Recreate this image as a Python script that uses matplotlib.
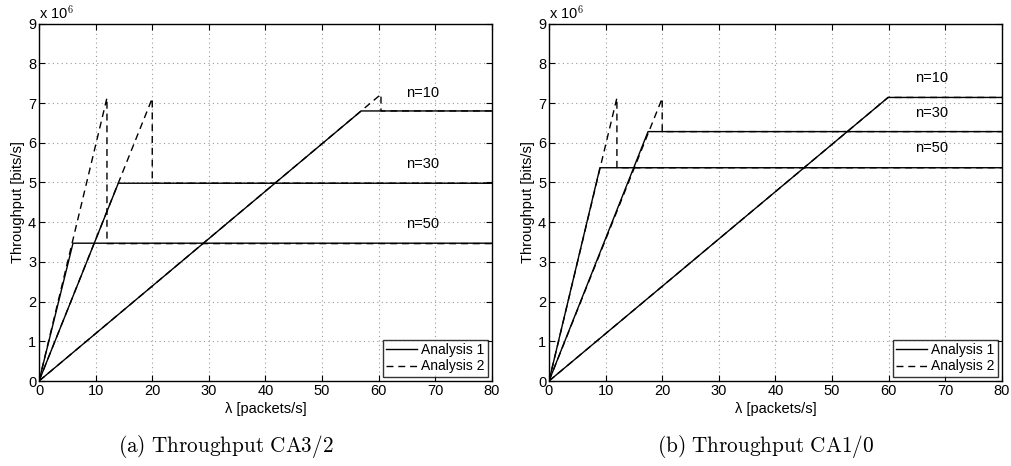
import matplotlib
matplotlib.use("Agg")
import matplotlib.pyplot as plt
from matplotlib.ticker import MultipleLocator

plt.rcParams["font.family"] = ["Liberation Sans", "DejaVu Sans"]
plt.rcParams["mathtext.fontset"] = "cm"

SCALE = 1e6  # y axis shown in units of 10^6 bits/s

n_labels = ["n=10", "n=30", "n=50"]

# ---------------------------------------------------------------- CA3/2
ca32_a1_knee_x = [56.9, 14.0, 6.0]
ca32_a1_level = [6.80e6, 4.98e6, 3.47e6]
ca32_a2_peak_x = [60.4, 20.0, 12.0]
ca32_a2_peak_y = [7.22e6, 7.12e6, 7.13e6]
ca32_a2_level = [6.80e6, 4.98e6, 3.46e6]
ca32_label_x = [67.8, 67.8, 67.8]
ca32_label_y = [7.26e6, 5.46e6, 3.95e6]

# ---------------------------------------------------------------- CA1/0
ca10_a1_knee_x = [59.9, 17.5, 9.0]
ca10_a1_level = [7.14e6, 6.28e6, 5.37e6]
ca10_a2_peak_x = [59.9, 20.0, 12.0]
ca10_a2_peak_y = [7.14e6, 7.12e6, 7.13e6]
ca10_a2_level = [7.14e6, 6.28e6, 5.37e6]
ca10_label_x = [67.6, 67.6, 67.6]
ca10_label_y = [7.62e6, 6.75e6, 5.86e6]

X_MAX = 80

fig = plt.figure(figsize=(10.11, 4.66), dpi=100)
ax1 = fig.add_axes([0.0386, 0.1824, 0.448, 0.767])
ax2 = fig.add_axes([0.543, 0.1824, 0.448, 0.767])


def draw_panel(ax, knee_x, level1, peak_x, peak_y, level2, lab_x, lab_y):
    for i in range(len(knee_x)):
        ax.plot([0, knee_x[i], X_MAX],
                [0, level1[i] / SCALE, level1[i] / SCALE],
                color="black", lw=1.0, ls="-",
                label="Analysis 1" if i == 0 else None)
        ax.plot([0, peak_x[i], peak_x[i], X_MAX],
                [0, peak_y[i] / SCALE, level2[i] / SCALE, level2[i] / SCALE],
                color="black", lw=1.0, ls=(0, (5, 3.5)),
                label="Analysis 2" if i == 0 else None)
        ax.text(lab_x[i], lab_y[i] / SCALE, n_labels[i], ha="center", va="center",
                fontsize=10.5)

    ax.set_xlim(0, X_MAX)
    ax.set_ylim(0, 9)
    ax.xaxis.set_major_locator(MultipleLocator(10))
    ax.yaxis.set_major_locator(MultipleLocator(1))
    ax.grid(True, ls=(0, (1, 3)), color="#999999", lw=0.8)
    ax.tick_params(direction="in", top=True, right=True, labelsize=10.5, length=4, pad=2)
    for s in ax.spines.values():
        s.set_linewidth(1.0)
    ax.set_xlabel("λ [packets/s]", fontsize=10.5, labelpad=3)
    ax.set_ylabel("Throughput [bits/s]", fontsize=10.5, labelpad=2)
    ax.text(0.0, 1.005, "x 10$^{\\mathsf{6}}$", transform=ax.transAxes, fontsize=10.5,
            ha="left", va="bottom")
    leg = ax.legend(loc="lower right", fontsize=10, handlelength=2.2, frameon=True,
                    fancybox=False, borderpad=0.25, labelspacing=0.15,
                    handletextpad=0.3, borderaxespad=0.3)
    leg.get_frame().set_edgecolor("black")
    leg.get_frame().set_linewidth(1.0)


draw_panel(ax1, ca32_a1_knee_x, ca32_a1_level, ca32_a2_peak_x, ca32_a2_peak_y,
           ca32_a2_level, ca32_label_x, ca32_label_y)
draw_panel(ax2, ca10_a1_knee_x, ca10_a1_level, ca10_a2_peak_x, ca10_a2_peak_y,
           ca10_a2_level, ca10_label_x, ca10_label_y)

fig.text(0.2236, 0.041, r"$\mathrm{(a)\ Throughput\ CA3/2}$", ha="center", va="center",
         fontsize=15.3)
fig.text(0.757, 0.041, r"$\mathrm{(b)\ Throughput\ CA1/0}$", ha="center", va="center",
         fontsize=15.3)

fig.savefig("out.png", dpi=100)
